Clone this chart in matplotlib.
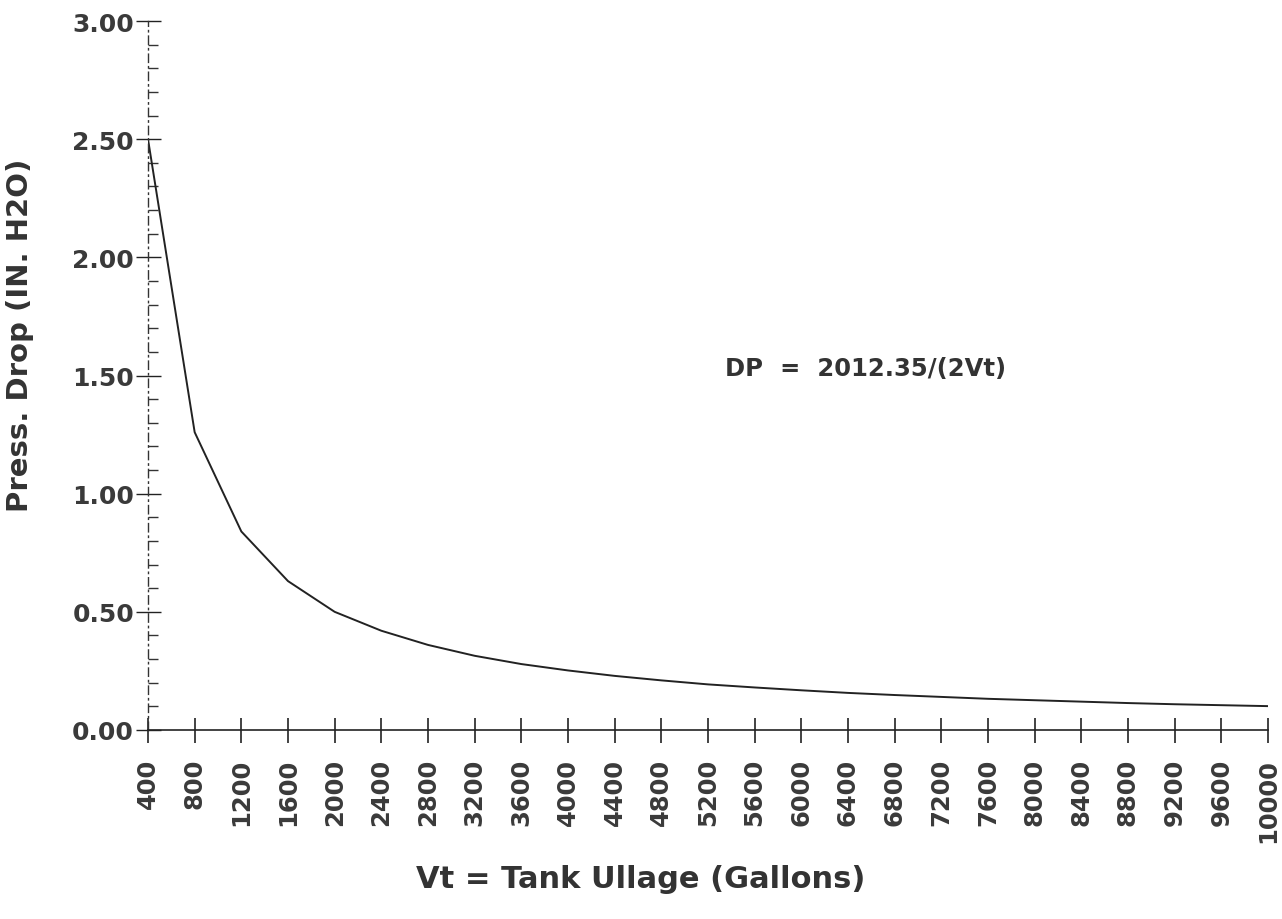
import numpy as np
import matplotlib.pyplot as plt
from matplotlib.ticker import MultipleLocator

# Tank ullage (gallons) and pressure drop (in. H2O)
ullage = [400, 800, 1200, 1600, 2000, 2400, 2800, 3200, 3600, 4000, 4400, 4800, 5200,
          5600, 6000, 6400, 6800, 7200, 7600, 8000, 8400, 8800, 9200, 9600, 10000]
press_drop = [2.50, 1.26, 0.84, 0.63, 0.50, 0.42, 0.36, 0.314, 0.279, 0.252, 0.229, 0.210,
              0.193, 0.180, 0.168, 0.157, 0.148, 0.140, 0.132, 0.126, 0.120, 0.114,
              0.109, 0.105, 0.101]

x_ticks = list(range(400, 10001, 400))
y_ticks = [0.0, 0.5, 1.0, 1.5, 2.0, 2.5, 3.0]

plt.rcParams['font.family'] = ['DejaVu Sans']

fig = plt.figure(figsize=(12.82, 9.2), dpi=100)
ax = fig.add_axes([148/1282, 1 - 731/920, (1268 - 148)/1282, (731 - 22)/920])

ax.plot(ullage, press_drop, color='#222222', lw=1.4)

ax.set_xlim(400, 10000)
ax.set_ylim(0, 3.0)

ax.spines['top'].set_visible(False)
ax.spines['right'].set_visible(False)
ax.spines['left'].set_linestyle((0, (6, 3, 1, 3)))
ax.spines['left'].set_linewidth(1.0)
ax.spines['left'].set_color('#333333')
ax.spines['bottom'].set_linewidth(1.2)
ax.spines['bottom'].set_color('#222222')

ax.set_xticks(x_ticks)
ax.set_xticklabels([str(v) for v in x_ticks], rotation=90, fontsize=17.5,
                   fontweight='bold', color='#3a3a3a')
ax.set_yticks(y_ticks)
ax.set_yticklabels(['%.2f' % v for v in y_ticks], fontsize=18,
                   fontweight='bold', color='#3a3a3a')
ax.yaxis.set_minor_locator(MultipleLocator(0.1))

ax.tick_params(axis='x', which='major', direction='inout', length=18, width=1.2,
               color='#222222', pad=11)
ax.tick_params(axis='y', which='major', direction='inout', length=18, width=1.0,
               color='#222222', pad=1)
ax.tick_params(axis='y', which='minor', direction='in', length=7, width=1.0,
               color='#333333')

fig.text(641/1282, 1 - 880/920, 'Vt = Tank Ullage (Gallons)', fontsize=22,
         fontweight='bold', color='#333333', ha='center', va='center')
fig.text(20/1282, 1 - 335/920, 'Press. Drop (IN. H2O)', fontsize=21,
         fontweight='bold', color='#333333', ha='center', va='center', rotation=90)

ax.text(0.515, 0.51, 'DP  =  2012.35/(2Vt)', transform=ax.transAxes,
        fontsize=17.5, fontweight='bold', color='#333333', va='center', ha='left')

fig.savefig('out.png', dpi=100)
